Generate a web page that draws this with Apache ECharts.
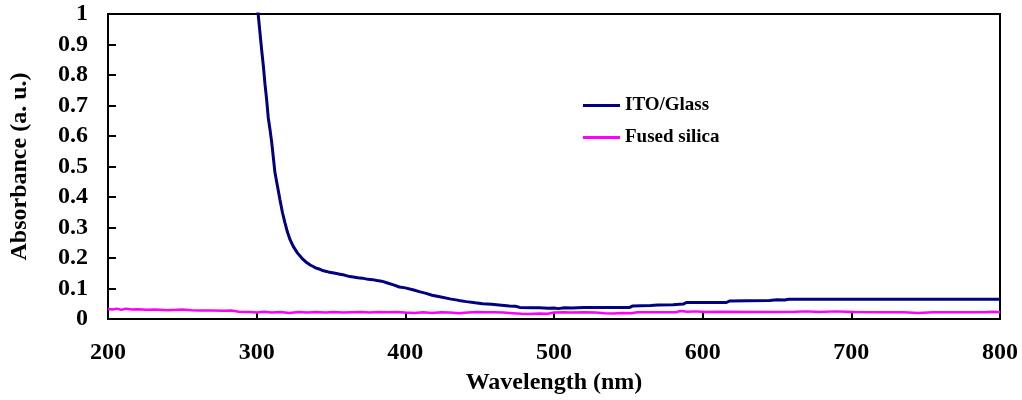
<!DOCTYPE html>
<html>
<head>
<meta charset="utf-8">
<script src="https://cdn.jsdelivr.net/npm/echarts@6/dist/echarts.min.js"></script>
<style>
  html, body { margin: 0; padding: 0; background: #fff; }
  #chart { width: 1022px; height: 400px; }
</style>
</head>
<body>
<div id="chart"></div>
<script>
// 数据：点 [波长 nm, 吸光度]
var seriesNames = ['ITO/Glass', 'Fused silica'];
var xTicks = [200, 300, 400, 500, 600, 700, 800];
var yTicks = [0, 0.1, 0.2, 0.3, 0.4, 0.5, 0.6, 0.7, 0.8, 0.9, 1];

var itoGlass = [
  [299, 1.06], [301, 1.0], [302.2, 0.94], [303.4, 0.88], [304.5, 0.83], [305.6, 0.77],
  [306.7, 0.72], [307.8, 0.66], [309, 0.62], [310.1, 0.58], [311.2, 0.53], [312.3, 0.48],
  [314, 0.435], [315.7, 0.39], [317.3, 0.35], [319, 0.316], [320.7, 0.285], [322.4, 0.261],
  [324.6, 0.238], [327.5, 0.216], [330.5, 0.199], [333.6, 0.185], [336, 0.177], [338, 0.172],
  [340, 0.167], [342.6, 0.163], [345, 0.158], [347, 0.156], [349, 0.153], [352, 0.151],
  [356, 0.147], [359, 0.144], [362.7, 0.139], [365, 0.138], [368, 0.135], [371, 0.134],
  [375, 0.130], [378, 0.129], [381, 0.126], [384, 0.124], [388, 0.118], [392, 0.112],
  [396, 0.105], [400, 0.102], [405, 0.096], [410, 0.089], [414, 0.084], [418, 0.078],
  [424, 0.072], [430, 0.066], [436, 0.061], [441, 0.057], [447, 0.053], [452, 0.050],
  [458, 0.048], [463, 0.046], [470, 0.043], [474, 0.042], [477, 0.038], [485, 0.037],
  [490, 0.037], [496, 0.035], [500, 0.036], [503, 0.034], [507, 0.037], [512, 0.036],
  [520, 0.038], [530, 0.038], [540, 0.038], [551, 0.038], [553, 0.043], [565, 0.044],
  [570, 0.046], [580, 0.047], [587, 0.049], [589, 0.054], [600, 0.054], [616, 0.054],
  [618, 0.059], [630, 0.060], [645, 0.061], [650, 0.063], [655, 0.062], [658, 0.065],
  [700, 0.065], [744, 0.065], [745, 0.061], [747, 0.065], [800, 0.065]
];

var fusedSilica = [
  [200, 0.033], [203, 0.031], [206, 0.034], [209, 0.030], [212, 0.034], [216, 0.031],
  [220, 0.032], [226, 0.030], [232, 0.031], [240, 0.029], [246, 0.030], [250, 0.031],
  [256, 0.029], [262, 0.028], [270, 0.028], [278, 0.027], [283, 0.028], [288, 0.024],
  [295, 0.023], [300, 0.021], [305, 0.024], [310, 0.021], [316, 0.023], [322, 0.020],
  [328, 0.023], [334, 0.021], [340, 0.023], [346, 0.021], [352, 0.023], [358, 0.021],
  [364, 0.022], [370, 0.023], [376, 0.021], [382, 0.023], [388, 0.022], [394, 0.023],
  [400, 0.021], [406, 0.020], [412, 0.022], [418, 0.020], [424, 0.022], [430, 0.021],
  [436, 0.019], [442, 0.021], [448, 0.023], [454, 0.022], [460, 0.022], [466, 0.021],
  [472, 0.019], [478, 0.017], [484, 0.016], [490, 0.018], [496, 0.017], [500, 0.021],
  [506, 0.022], [512, 0.021], [520, 0.022], [528, 0.021], [534, 0.019], [540, 0.018],
  [546, 0.020], [552, 0.019], [556, 0.022], [566, 0.022], [576, 0.022], [582, 0.022],
  [585, 0.026], [590, 0.024], [595, 0.025], [602, 0.023], [612, 0.024], [630, 0.023],
  [650, 0.023], [662, 0.024], [670, 0.025], [678, 0.023], [690, 0.025], [696, 0.024],
  [702, 0.023], [720, 0.022], [735, 0.022], [745, 0.020], [755, 0.022], [775, 0.022],
  [790, 0.022], [795, 0.024], [800, 0.022]
];

var font = '"Liberation Serif", "Times New Roman", serif';

var myChart = echarts.init(document.getElementById('chart'));
var option = {
    animation: false,
    backgroundColor: '#fff',
    grid: {
        left: 108,
        right: 22,
        top: 14,
        bottom: 80,
        show: true,
        borderColor: '#000',
        borderWidth: 2
    },
    legend: {
        orient: 'vertical',
        left: 578,
        top: 91,
        icon: 'rect',
        itemWidth: 37,
        itemHeight: 3,
        itemGap: 13,
        selectedMode: false,
        data: seriesNames,
        textStyle: {
            fontFamily: font,
            fontWeight: 'bold',
            fontSize: 19,
            color: '#000'
        }
    },
    xAxis: {
        type: 'value',
        min: xTicks[0],
        max: xTicks[xTicks.length - 1],
        interval: 100,
        name: 'Wavelength (nm)',
        nameLocation: 'middle',
        nameGap: 52,
        nameTextStyle: { fontFamily: font, fontWeight: 'bold', fontSize: 24, color: '#000' },
        axisLine: { lineStyle: { color: '#000', width: 2 } },
        axisTick: { inside: true, length: 6, lineStyle: { color: '#000', width: 2 } },
        axisLabel: { margin: 22, fontFamily: font, fontWeight: 'bold', fontSize: 24, color: '#000' },
        splitLine: { show: false }
    },
    yAxis: {
        type: 'value',
        min: yTicks[0],
        max: yTicks[yTicks.length - 1],
        interval: 0.1,
        name: 'Absorbance (a. u.)',
        nameLocation: 'middle',
        nameGap: 76,
        nameTextStyle: { fontFamily: font, fontWeight: 'bold', fontSize: 24, color: '#000' },
        axisLine: { lineStyle: { color: '#000', width: 2 } },
        axisTick: { inside: true, length: 8, lineStyle: { color: '#000', width: 2 } },
        axisLabel: { margin: 20, fontFamily: font, fontWeight: 'bold', fontSize: 24, color: '#000' },
        splitLine: { show: false }
    },
    series: [
        {
            name: seriesNames[0],
            type: 'line',
            symbol: 'none',
            clip: true,
            data: itoGlass,
            color: '#000080',
            lineStyle: { color: '#000080', width: 3 }
        },
        {
            name: seriesNames[1],
            type: 'line',
            symbol: 'none',
            clip: true,
            data: fusedSilica,
            color: '#ff00ff',
            lineStyle: { color: '#ff00ff', width: 2.5 }
        }
    ]
};
myChart.setOption(option);
</script>
</body>
</html>
